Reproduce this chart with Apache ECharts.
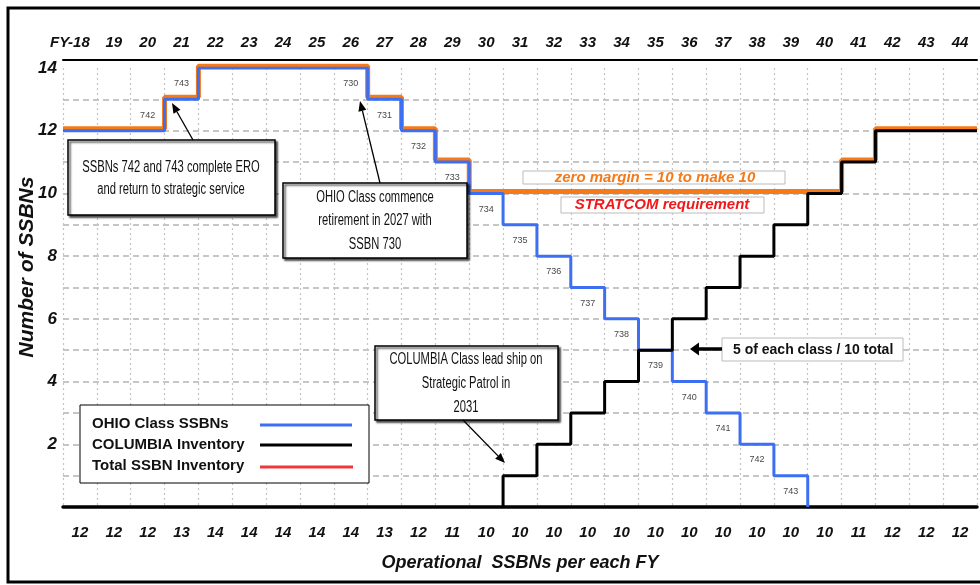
<!DOCTYPE html>
<html>
<head>
    <meta charset="utf-8">
    <script src="https://cdn.jsdelivr.net/npm/echarts@6/dist/echarts.min.js"></script>
</head>
<body style="margin:0">
<div id="main" style="width:980px;height:585px"></div>
<script type="text/javascript">
    // fiscal years along the top, one column each
    var years = ['FY-18', '19', '20', '21', '22', '23', '24', '25', '26', '27', '28', '29', '30', '31',
        '32', '33', '34', '35', '36', '37', '38', '39', '40', '41', '42', '43', '44'];
    // operational boats per FY
    var ohio = [12, 12, 12, 13, 14, 14, 14, 14, 14, 13, 12, 11, 10, 9, 8, 7, 6, 5, 4, 3, 2, 1];
    var columbia = [null, null, null, null, null, null, null, null, null, null, null, null, null,
        1, 2, 3, 4, 5, 6, 7, 8, 9, 10, 11, 12, 12, 12];
    var total = [12, 12, 12, 13, 14, 14, 14, 14, 14, 13, 12, 11, 10, 10, 10, 10, 10, 10, 10, 10, 10,
        10, 10, 11, 12, 12, 12];
    // hull numbers written next to each step
    var hullNames = ['742', '743', '730', '731', '732', '733', '734', '735', '736', '737', '738',
        '739', '740', '741', '742', '743'];
    var hullCol = [2, 3, 8, 9, 10, 11, 12, 13, 14, 15, 16, 17, 18, 19, 20, 21];
    var hullLevel = [12.5, 13.5, 13.5, 12.5, 11.5, 10.5, 9.5, 8.5, 7.5, 6.5, 5.5, 4.5, 3.5, 2.5, 1.5, 0.5];

    // turn per-year values into step points (column i spans i..i+1)
    function steps(vals, riseFromZero, dropToZero) {
        var pts = [], first = -1, last = -1;
        vals.forEach(function (v, i) {
            if (v == null) return;
            if (first < 0) first = i;
            last = i;
            pts.push([i, v]);
        });
        if (riseFromZero) pts.unshift([first, 0]);
        pts.push([last + 1, dropToZero ? 0 : vals[last]]);
        return pts;
    }

    function arrow(x1, y1, x2, y2, w, hl, hw) {
        var a = Math.atan2(y2 - y1, x2 - x1);
        var bx = x2 - hl * Math.cos(a), by = y2 - hl * Math.sin(a);
        var px = -Math.sin(a) * hw, py = Math.cos(a) * hw;
        return [
            {type: 'line', shape: {x1: x1, y1: y1, x2: bx, y2: by}, style: {stroke: '#000', lineWidth: w}},
            {type: 'polygon', shape: {points: [[x2, y2], [bx + px, by + py], [bx - px, by - py]]}, style: {fill: '#000'}}
        ];
    }

    function box(x, y, w, h, stroke, shadow) {
        return {
            type: 'rect', shape: {x: x, y: y, width: w, height: h},
            style: {
                fill: '#fff', stroke: stroke, lineWidth: shadow ? 1.5 : 1,
                shadowColor: shadow ? 'rgba(0,0,0,0.7)' : null, shadowOffsetX: shadow ? 2 : 0,
                shadowOffsetY: shadow ? 2 : 0, shadowBlur: shadow ? 2 : 0
            }
        };
    }

    function narrow(cx, cy, txt, lh) {
        return {
            type: 'text', x: cx, y: cy, scaleX: 0.7,
            style: {
                text: txt, fontSize: 16, fontFamily: 'Liberation Sans', fill: '#111',
                textAlign: 'center', textVerticalAlign: 'middle', lineHeight: lh
            }
        };
    }

    var font = 'Liberation Sans';
    var blue = '#3d6ff2', orange = '#f47a1a';

    var graphics = [
        {type: 'rect', shape: {x: 8, y: 8, width: 990, height: 574}, style: {fill: 'none', stroke: '#000', lineWidth: 3}},
        {type: 'text', x: 27, y: 267, rotation: Math.PI / 2,
            style: {text: 'Number of SSBNs', fontSize: 21, fontWeight: 'bold', fontStyle: 'italic', fontFamily: font,
                fill: '#111', textAlign: 'center', textVerticalAlign: 'middle'}},
        // ERO note
        box(68, 140, 207, 75, '#000', true),
        narrow(171, 179, 'SSBNs 742 and 743 complete ERO\nand return to strategic service', 22),
        // retirement note
        box(283, 183, 184, 75, '#000', true),
        narrow(375, 221, 'OHIO Class commence\nretirement in 2027 with\nSSBN 730', 23.5),
        // Columbia lead ship note
        box(375, 346, 183, 74, '#000', true),
        narrow(466, 384, 'COLUMBIA Class lead ship on\nStrategic Patrol in\n2031', 24),
        // requirement labels
        box(523, 171, 262, 13, '#bbb', false),
        {type: 'text', x: 655, y: 178, style: {text: 'zero margin = 10 to make 10', fontSize: 15, fontWeight: 'bold',
            fontStyle: 'italic', fontFamily: font, fill: orange, textAlign: 'center', textVerticalAlign: 'middle'}},
        box(561, 197, 203, 16, '#bbb', false),
        {type: 'text', x: 662, y: 205, style: {text: 'STRATCOM requirement', fontSize: 15, fontWeight: 'bold',
            fontStyle: 'italic', fontFamily: font, fill: '#f01818', textAlign: 'center', textVerticalAlign: 'middle'}},
        // 5 of each class
        box(722, 338, 181, 23, '#bbb', false),
        {type: 'text', x: 733, y: 350, style: {text: '5 of each class / 10 total', fontSize: 14, fontWeight: 'bold',
            fontFamily: font, fill: '#111', textAlign: 'left', textVerticalAlign: 'middle'}},
        // legend
        box(80, 405, 289, 78, '#000', false),
        {type: 'text', x: 92, y: 424, style: {text: 'OHIO Class SSBNs', fontSize: 15, fontWeight: 'bold', fontFamily: font, fill: '#111', textVerticalAlign: 'middle'}},
        {type: 'text', x: 92, y: 445, style: {text: 'COLUMBIA Inventory', fontSize: 15, fontWeight: 'bold', fontFamily: font, fill: '#111', textVerticalAlign: 'middle'}},
        {type: 'text', x: 92, y: 466, style: {text: 'Total SSBN Inventory', fontSize: 15, fontWeight: 'bold', fontFamily: font, fill: '#111', textVerticalAlign: 'middle'}},
        {type: 'line', shape: {x1: 260, y1: 425, x2: 352, y2: 425}, style: {stroke: blue, lineWidth: 3}},
        {type: 'line', shape: {x1: 260, y1: 445, x2: 352, y2: 445}, style: {stroke: '#000', lineWidth: 3}},
        {type: 'line', shape: {x1: 260, y1: 467, x2: 353, y2: 467}, style: {stroke: '#f0383c', lineWidth: 3}}
    ];
    graphics = graphics
        .concat(arrow(193, 140, 172, 103, 1.3, 10, 4))
        .concat(arrow(380, 183, 360, 101, 1.3, 10, 4))
        .concat(arrow(463, 420, 505, 463, 1.3, 10, 4))
        .concat(arrow(722, 349, 690, 349, 3.5, 9, 6.5));
    // keep the notes above grid lines and series
    graphics.forEach(function (g, i) { g.z = 100; g.zlevel = 0; });

    // first year label sits a little left of its column
    var topLabels = years.map(function (y, i) {
        return i === 0 ? {value: y, textStyle: {padding: [0, 20, 0, 0]}} : y;
    });

    var myChart = echarts.init(document.getElementById('main'));
    var option = {
        animation: false,
        backgroundColor: '#fff',
        grid: [
            {left: 63, right: 3, top: 68, bottom: 78},
            // total line sits a hair above the class lines
            {left: 63, right: 3, top: 66, bottom: 80}
        ],
        xAxis: [
            {
                type: 'value', gridIndex: 0, min: 0, max: 27, interval: 1, position: 'bottom',
                axisLabel: {show: false}, axisTick: {show: false},
                axisLine: {lineStyle: {color: '#000', width: 3.5}},
                splitLine: {show: true, lineStyle: {color: '#c4c4c4', type: [2, 3], width: 1.2}}
            },
            {
                type: 'category', gridIndex: 0, data: topLabels, position: 'top', offset: 8,
                axisTick: {show: false},
                axisLine: {lineStyle: {color: '#000', width: 2}},
                axisLabel: {interval: 0, margin: 10, fontSize: 15, fontWeight: 'bold', fontStyle: 'italic', fontFamily: font, color: '#111'}
            },
            {
                type: 'category', gridIndex: 0, data: total.map(String), position: 'bottom',
                axisTick: {show: false}, axisLine: {show: false},
                axisLabel: {interval: 0, margin: 18, fontSize: 15, fontWeight: 'bold', fontStyle: 'italic', fontFamily: font, color: '#111'},
                name: 'Operational  SSBNs per each FY', nameLocation: 'middle', nameGap: 47,
                nameTextStyle: {fontSize: 18, fontWeight: 'bold', fontStyle: 'italic', fontFamily: font, color: '#111'}
            },
            {type: 'value', gridIndex: 1, min: 0, max: 27, show: false}
        ],
        yAxis: [
            {
                type: 'value', gridIndex: 0, min: 0, max: 14, interval: 1,
                axisLine: {show: false}, axisTick: {show: false},
                axisLabel: {
                    margin: 6, fontSize: 17, fontWeight: 'bold', fontStyle: 'italic', fontFamily: font, color: '#111',
                    formatter: function (v) { return (v > 0 && v % 2 === 0) ? v : ''; }
                },
                splitLine: {show: true, showMinLine: false, showMaxLine: false,
                    lineStyle: {color: '#b4b4b4', type: [6, 4], width: 1.5}}
            },
            {type: 'value', gridIndex: 1, min: 0, max: 14, show: false}
        ],
        series: [
            {
                name: 'Total SSBN Inventory', type: 'line', xAxisIndex: 3, yAxisIndex: 1, step: 'end',
                showSymbol: false, data: steps(total, false, false),
                lineStyle: {color: orange, width: 5}
            },
            {
                name: 'OHIO Class SSBNs', type: 'line', xAxisIndex: 0, yAxisIndex: 0, step: 'end',
                showSymbol: false, data: steps(ohio, false, true),
                lineStyle: {color: blue, width: 3}
            },
            {
                name: 'COLUMBIA Inventory', type: 'line', xAxisIndex: 0, yAxisIndex: 0, step: 'end',
                showSymbol: false, data: steps(columbia, true, false),
                lineStyle: {color: '#000', width: 3}
            },
            {
                name: 'hulls', type: 'scatter', xAxisIndex: 0, yAxisIndex: 0, symbolSize: 0,
                data: hullNames.map(function (n, i) { return {name: n, value: [hullCol[i] + 0.5, hullLevel[i]]}; }),
                label: {show: true, position: 'inside', formatter: '{b}', fontSize: 9, fontFamily: font, color: '#111'}
            }
        ],
        graphic: graphics
    };
    myChart.setOption(option);
</script>
</body>
</html>
